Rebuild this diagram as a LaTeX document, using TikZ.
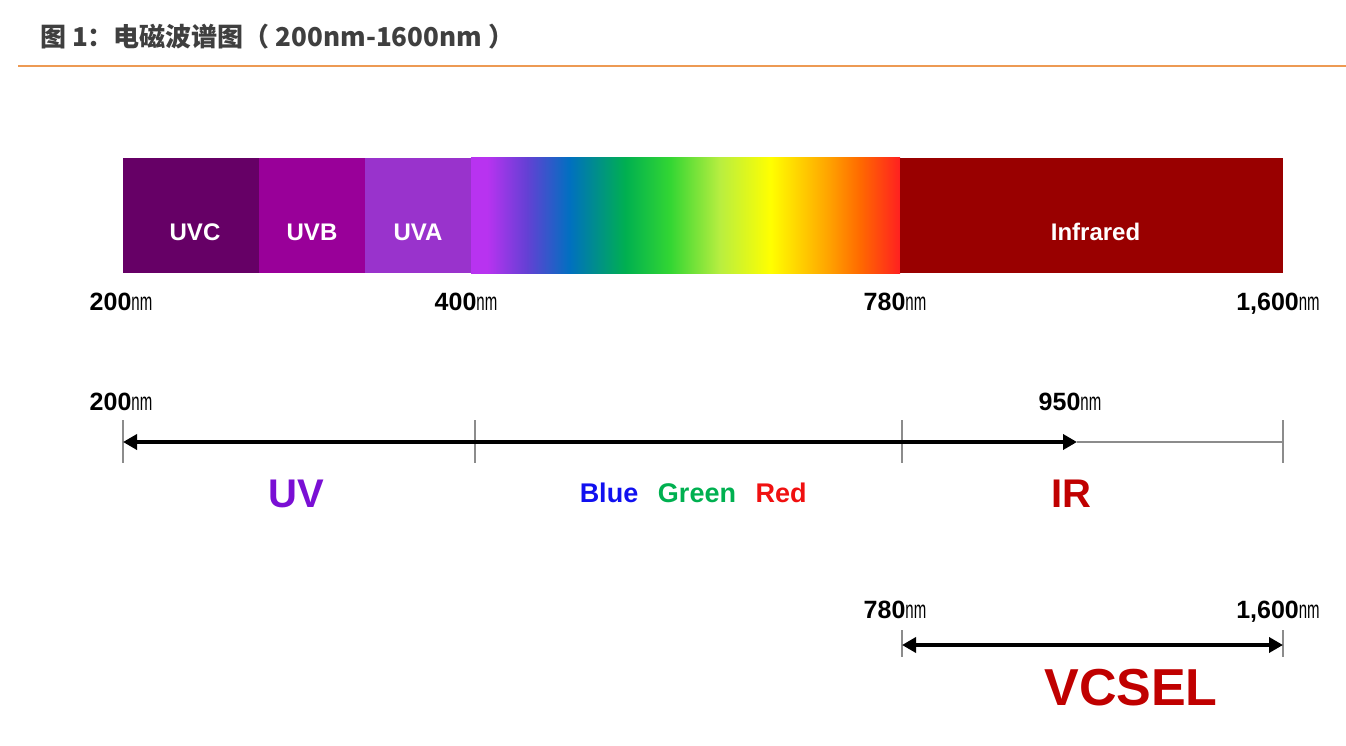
\documentclass[tikz,border=0pt]{standalone}
\usepackage{fontspec}
\usepackage{graphicx}
\setmainfont{Liberation Sans}
\newfontfamily\cjk{Noto Sans CJK SC}
\usetikzlibrary{arrows.meta,positioning}
\definecolor{titlegray}{RGB}{63, 63, 63}
\definecolor{ruleorange}{RGB}{237, 154, 83}
\definecolor{uvcpurple}{RGB}{102, 0, 102}
\definecolor{uvbpurple}{RGB}{153, 0, 153}
\definecolor{uvapurple}{RGB}{153, 51, 204}
\definecolor{irdark}{RGB}{153, 0, 0}
\definecolor{uvviolet}{RGB}{122, 15, 212}
\definecolor{labelblue}{RGB}{16, 16, 240}
\definecolor{labelgreen}{RGB}{0, 176, 80}
\definecolor{labelred}{RGB}{240, 16, 16}
\definecolor{irred}{RGB}{192, 0, 0}
\definecolor{axisgray}{RGB}{140, 140, 140}
% visible spectrum stops
\definecolor{specA}{RGB}{184, 51, 240}
\definecolor{specB}{RGB}{100, 64, 212}
\definecolor{specC}{RGB}{0, 112, 192}
\definecolor{specD}{RGB}{0, 176, 80}
\definecolor{specE}{RGB}{51, 214, 51}
\definecolor{specF}{RGB}{184, 238, 64}
\definecolor{specG}{RGB}{255, 255, 0}
\definecolor{specH}{RGB}{255, 165, 0}
\definecolor{specI}{RGB}{255, 106, 0}
\definecolor{specJ}{RGB}{255, 32, 32}
\pgfdeclarehorizontalshading{spectrum}{100bp}{color(0bp)=(specA); color(25bp)=(specA); color(26.9bp)=(specA); color(31.5bp)=(specB); color(36.5bp)=(specC); color(43bp)=(specD); color(48.2bp)=(specE); color(54bp)=(specF); color(59.9bp)=(specG); color(66.5bp)=(specH); color(70.3bp)=(specI); color(75bp)=(specJ); color(100bp)=(specJ)}
\newcommand{\nmu}{\scalebox{0.6}[1]{\mdseries nm}}

\begin{document}
\begin{tikzpicture}[
  x=1pt, y=-1pt,
  band/.style={
    draw=none,
    inner sep=0pt,
    outer sep=0pt,
    minimum height=115pt
  },
  bandtext/.style={text=white, font=\fontsize{24}{28}\selectfont\bfseries},
  wavelen/.style={anchor=base, inner sep=0pt, font=\fontsize{25}{30}\selectfont\bfseries},
  rangetext/.style={anchor=base, inner sep=0pt, font=\fontsize{40}{48}\selectfont\bfseries},
  colortext/.style={anchor=base, inner sep=0pt, font=\fontsize{27}{32}\selectfont\bfseries},
  tickmark/.style={draw=axisgray, line width=1.5pt},
  rangearrow/.style={{Triangle[length=14pt,width=15pt]}-{Triangle[length=14pt,width=15pt]}, line width=3.5pt}
]
  \useasboundingbox (0,0) rectangle (1346,746);

  % Title and rule
  \node[anchor=base west, inner sep=0pt, text=titlegray, font=\cjk\fontsize{26}{30}\selectfont\bfseries] (title) at (40,47) {图 1：电磁波谱图（ 200nm-1600nm ）};
  \coordinate (rulestart) at (18,66);
  \coordinate (ruleend) at (1346,66);
  \draw[ruleorange, line width=1.5pt] (rulestart) -- (ruleend);

  % Spectrum bar
  \node[band, fill=uvcpurple, minimum width=136pt] (uvc) at (191,215.5) {};
  \node[band, fill=uvbpurple, minimum width=106pt, right=0pt of uvc] (uvb) {};
  \node[band, fill=uvapurple, minimum width=106pt, right=0pt of uvb] (uva) {};
  \node[band, shade, shading=spectrum, minimum width=429pt, right=0pt of uva] (vis) {};
  \node[band, fill=irdark, minimum width=383pt, right=0pt of vis] (ir) {};
  \node[bandtext] (uvctext) at ([xshift=4pt, yshift=-17pt]uvc.center) {UVC};
  \node[bandtext] (uvbtext) at ([yshift=-17pt]uvb.center) {UVB};
  \node[bandtext] (uvatext) at ([yshift=-17pt]uva.center) {UVA};
  \node[bandtext] (irtext) at ([xshift=4pt, yshift=-16pt]ir.center) {Infrared};

  \node[wavelen] (bar200) at (121,310) {200\nmu};
  \node[wavelen] (bar400) at (466,310) {400\nmu};
  \node[wavelen] (bar780) at (895,310) {780\nmu};
  \node[wavelen] (bar1600) at (1278,310) {1,600\nmu};

  % UV / visible / IR axis
  \coordinate (t200) at (123,442);
  \coordinate (t400) at (475,442);
  \coordinate (t780) at (902,442);
  \coordinate (t1600) at (1283,442);
  \coordinate (t950) at (1077,442);
  \node[wavelen] (ax200) at (121,410) {200\nmu};
  \node[wavelen] (ax950) at (1070,410) {950\nmu};
  \draw[tickmark] (t950) -- (t1600);
  \foreach \t in {t200,t400,t780,t1600}
    \draw[tickmark] ([yshift=22pt]\t) -- ([yshift=-21pt]\t);
  \draw[rangearrow] (t200) -- (t950);

  \node[rangetext, text=uvviolet] (uv) at (296,507) {UV};
  \node[colortext, text=labelblue] (blue) at (609,502) {Blue};
  \node[colortext, text=labelgreen] (green) at (697,502) {Green};
  \node[colortext, text=labelred] (red) at (781,502) {Red};
  \node[rangetext, text=irred] (irlabel) at (1071,507) {IR};

  % VCSEL range
  \coordinate (v780) at (902,645);
  \coordinate (v1600) at (1283,645);
  \node[wavelen] (vc780) at (895,618) {780\nmu};
  \node[wavelen] (vc1600) at (1278,618) {1,600\nmu};
  \foreach \t in {v780,v1600}
    \draw[tickmark] ([yshift=15pt]\t) -- ([yshift=-12pt]\t);
  \draw[rangearrow] (v780) -- (v1600);
  \node[anchor=base, inner sep=0pt, text=irred, font=\fontsize{52}{60}\selectfont\bfseries] (vcsel) at (1131,705) {VCSEL};

\end{tikzpicture}
\end{document}
